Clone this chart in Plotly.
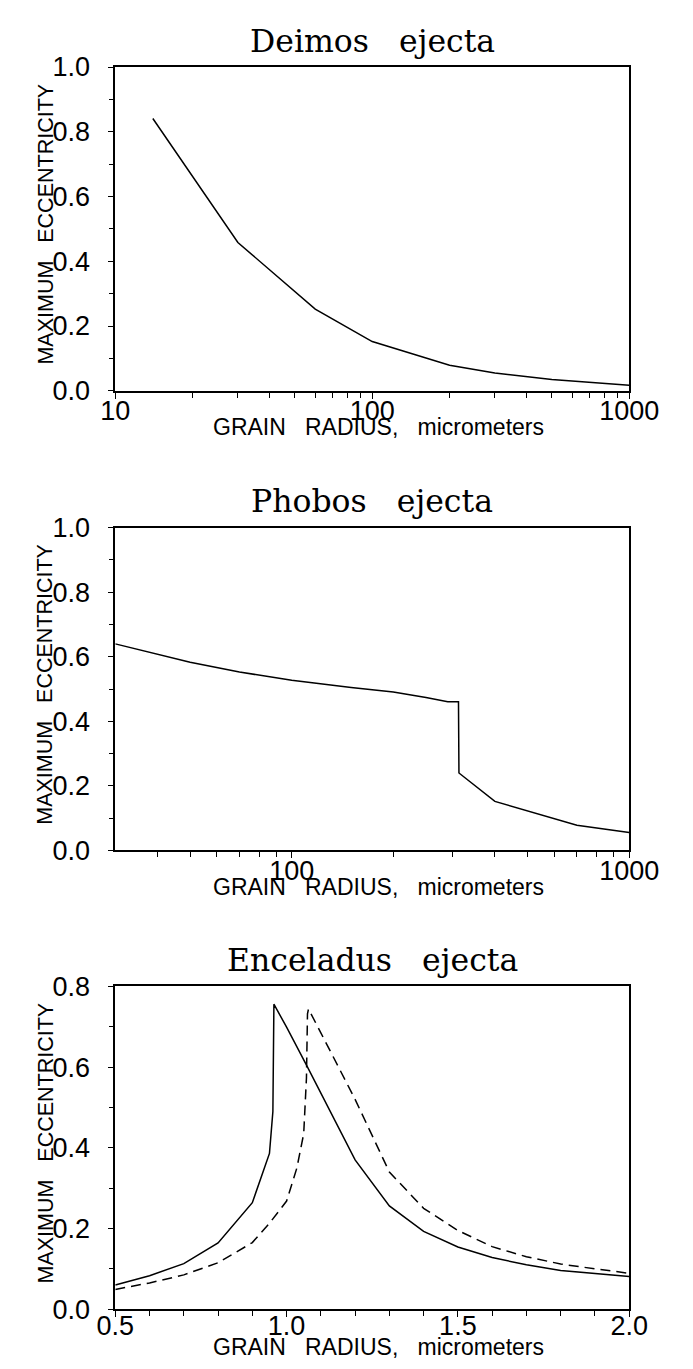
import plotly.graph_objects as go
import numpy as np

# ---------------- data ----------------
deimos_radius = [14, 30, 60, 100, 200, 300, 500, 1000]
deimos_ecc = [0.841, 0.458, 0.252, 0.152, 0.079, 0.055, 0.035, 0.017]

phobos_radius = [30, 40, 50, 70, 100, 150, 200, 250, 290, 312, 313, 400, 500, 700, 1000]
phobos_ecc = [0.640, 0.607, 0.583, 0.553, 0.527, 0.505, 0.491, 0.474, 0.461, 0.461, 0.240, 0.152, 0.123, 0.078, 0.056]

encel_solid_radius = [0.5, 0.6, 0.7, 0.8, 0.9, 0.95, 0.96, 0.963, 1.0, 1.06, 1.2, 1.3, 1.4, 1.5, 1.6, 1.7, 1.8, 1.9, 2.0]
encel_solid_ecc = [0.060, 0.083, 0.113, 0.164, 0.264, 0.386, 0.49, 0.756, 0.699, 0.602, 0.37, 0.256, 0.193, 0.154, 0.128, 0.110, 0.096, 0.088, 0.081]

encel_dash_radius = [0.5, 0.6, 0.7, 0.8, 0.9, 0.95, 1.0, 1.03, 1.05, 1.058, 1.061, 1.064, 1.1, 1.2, 1.3, 1.4, 1.5, 1.6, 1.7, 1.8, 1.9, 2.0]
encel_dash_ecc = [0.049, 0.065, 0.085, 0.115, 0.165, 0.213, 0.268, 0.35, 0.435, 0.573, 0.732, 0.744, 0.685, 0.52, 0.34, 0.25, 0.195, 0.155, 0.13, 0.112, 0.1, 0.089]

NB = "\u00a0"
titles = ["Deimos" + NB * 3 + "ejecta", "Phobos" + NB * 3 + "ejecta", "Enceladus" + NB * 3 + "ejecta"]
x_title = "GRAIN" + NB * 3 + "RADIUS," + NB * 3 + "micrometers"
y_title = "MAXIMUM" + NB * 3 + "ECCENTRICITY"

# ---------------- layout geometry ----------------
W, H = 693, 1369
def py(v):
    return 1 - v / H

x_dom = [95 / W, 648 / W]
boxes = [(45, 376), (516, 846), (985, 1315)]  # top, bottom in px
y_doms = [[py(b), py(t)] for t, b in boxes]

SANS = "Liberation Sans, Arial, sans-serif"
SERIF = "DejaVu Serif, serif"

fig = go.Figure()
line = dict(color="black", width=1.5)
fig.add_trace(go.Scatter(x=deimos_radius, y=deimos_ecc, mode="lines", line=line, xaxis="x", yaxis="y", showlegend=False))
fig.add_trace(go.Scatter(x=phobos_radius, y=phobos_ecc, mode="lines", line=line, xaxis="x2", yaxis="y2", showlegend=False))
fig.add_trace(go.Scatter(x=encel_solid_radius, y=encel_solid_ecc, mode="lines", line=line, xaxis="x3", yaxis="y3", showlegend=False))
fig.add_trace(go.Scatter(x=encel_dash_radius, y=encel_dash_ecc, mode="lines",
                         line=dict(color="black", width=1.5, dash="10px,6px"), xaxis="x3", yaxis="y3", showlegend=False))

common = dict(showline=True, linecolor="black", linewidth=1.5, mirror=True, ticks="outside",
              ticklen=6, tickwidth=1, tickcolor="black", showgrid=False, zeroline=False,
              tickfont=dict(family=SANS, size=27, color="black"))
xcommon = dict(common, ticklabelstandoff=-11)
xcommon3 = dict(common, ticklabelstandoff=-14)
ycommon = dict(common, ticklabelstandoff=12)

minor_top = [v * m for v in (10, 100) for m in range(2, 10)]
minor_mid = [v * m for v in (10, 100) for m in range(2, 10) if v * m > 30]
mt = dict(ticks="outside", ticklen=5, tickcolor="black", tickwidth=1)

fig.update_layout(
    width=W, height=H, margin=dict(l=0, r=0, t=0, b=0),
    paper_bgcolor="white", plot_bgcolor="white",
    xaxis=dict(domain=x_dom, anchor="y", type="log", range=[1, 3], tickvals=[10, 100, 1000],
               ticktext=["10", "100", "1000"], minor=dict(tickvals=minor_top, **mt), **xcommon),
    yaxis=dict(domain=y_doms[0], anchor="x", range=[0, 1], tickvals=[0, 0.2, 0.4, 0.6, 0.8, 1.0],
               tickformat=".1f", minor=dict(tickvals=[0.1, 0.3, 0.5, 0.7, 0.9], **mt), **ycommon),
    xaxis2=dict(domain=x_dom, anchor="y2", type="log", range=[np.log10(30), 3], tickvals=[100, 1000],
                ticktext=["100", "1000"], minor=dict(tickvals=minor_mid, **mt), **xcommon),
    yaxis2=dict(domain=y_doms[1], anchor="x2", range=[0, 1], tickvals=[0, 0.2, 0.4, 0.6, 0.8, 1.0],
                tickformat=".1f", minor=dict(tickvals=[0.1, 0.3, 0.5, 0.7, 0.9], **mt), **ycommon),
    xaxis3=dict(domain=x_dom, anchor="y3", range=[0.5, 2.0], tickvals=[0.5, 1.0, 1.5, 2.0], tickformat=".1f",
                minor=dict(tickvals=[0.6, 0.7, 0.8, 0.9, 1.1, 1.2, 1.3, 1.4, 1.6, 1.7, 1.8, 1.9], **mt),
                **xcommon3),
    yaxis3=dict(domain=y_doms[2], anchor="x3", range=[0, 0.8], tickvals=[0, 0.2, 0.4, 0.6, 0.8],
                tickformat=".1f", minor=dict(tickvals=[0.1, 0.3, 0.5, 0.7], **mt), **ycommon),
)

x_center = (x_dom[0] + x_dom[1]) / 2
title_y = [18, 489, 958]
xtitle_y = [413, 883, 1354]
ytitle_y = [(t + b) / 2 - 5 for t, b in boxes]
anns = []
for i in range(3):
    anns.append(dict(text=titles[i], x=x_center, y=py(title_y[i]), xref="paper", yref="paper",
                     xanchor="center", yanchor="middle", showarrow=False,
                     font=dict(family=SERIF, size=31.5, color="black")))
    anns.append(dict(text=x_title, x=378 / W, y=py(xtitle_y[i]), xref="paper", yref="paper",
                     xanchor="center", yanchor="middle", showarrow=False,
                     font=dict(family=SANS, size=23, color="black")))
    anns.append(dict(text=y_title, x=20 / W, y=py(ytitle_y[i]), xref="paper", yref="paper",
                     xanchor="center", yanchor="middle", showarrow=False, textangle=-90,
                     font=dict(family=SANS, size=21.5, color="black")))
fig.update_layout(annotations=anns)

fig.write_html("out.html")
